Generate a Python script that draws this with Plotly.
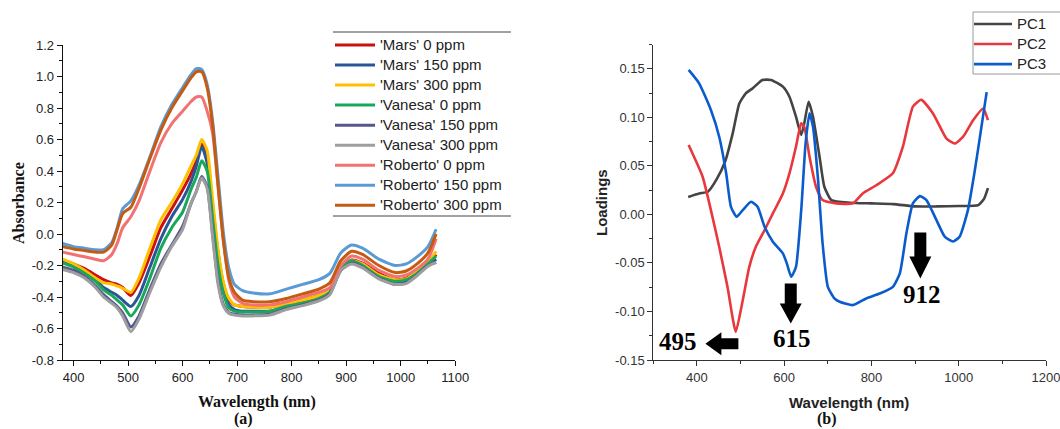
import plotly.graph_objects as go

# ---------------- (a) absorbance spectra ----------------
wavelength = [380, 400, 420, 440, 455, 470, 480, 490, 505, 520, 540, 560, 580, 600,
              615, 625, 635, 645, 655, 665, 675, 685, 695, 710, 730, 760, 790, 820,
              850, 870, 890, 910, 930, 960, 990, 1010, 1030, 1050, 1065]

series_names = ["'Mars' 0 ppm", "'Mars' 150 ppm", "'Mars' 300 ppm",
                "'Vanesa' 0 ppm", "'Vanesa' 150 ppm", "'Vanesa' 300 ppm",
                "'Roberto' 0 ppm", "'Roberto' 150 ppm", "'Roberto' 300 ppm"]

mars_0 = [-0.165, -0.19, -0.22, -0.26, -0.29, -0.31, -0.32, -0.34, -0.39, -0.31, -0.14, 0.04, 0.16, 0.28,
          0.38, 0.46, 0.57, 0.47, 0.18, -0.12, -0.32, -0.42, -0.45, -0.46, -0.465, -0.465, -0.44, -0.42,
          -0.39, -0.35, -0.22, -0.165, -0.185, -0.25, -0.29, -0.28, -0.24, -0.19, -0.13]
mars_150 = [-0.175, -0.2, -0.24, -0.29, -0.34, -0.37, -0.39, -0.42, -0.46, -0.39, -0.21, -0.03, 0.11, 0.22,
            0.33, 0.43, 0.555, 0.45, 0.14, -0.16, -0.36, -0.45, -0.48, -0.49, -0.49, -0.49, -0.46, -0.44,
            -0.41, -0.37, -0.23, -0.18, -0.2, -0.27, -0.31, -0.3, -0.25, -0.2, -0.16]
mars_300 = [-0.16, -0.19, -0.23, -0.28, -0.31, -0.317, -0.33, -0.345, -0.37, -0.28, -0.09, 0.09, 0.2, 0.32,
            0.43, 0.5, 0.6, 0.53, 0.22, -0.1, -0.31, -0.41, -0.45, -0.46, -0.465, -0.465, -0.44, -0.42,
            -0.39, -0.35, -0.22, -0.17, -0.19, -0.26, -0.29, -0.285, -0.24, -0.18, -0.11]
vanesa_0 = [-0.185, -0.21, -0.25, -0.3, -0.355, -0.39, -0.42, -0.45, -0.52, -0.45, -0.28, -0.09, 0.04, 0.14,
            0.28, 0.36, 0.465, 0.4, 0.1, -0.2, -0.38, -0.47, -0.49, -0.495, -0.495, -0.49, -0.46, -0.44,
            -0.41, -0.37, -0.22, -0.17, -0.2, -0.27, -0.3, -0.29, -0.25, -0.19, -0.14]
vanesa_150 = [-0.21, -0.23, -0.27, -0.33, -0.385, -0.43, -0.46, -0.5, -0.59, -0.52, -0.35, -0.19, -0.07, 0.05,
              0.19, 0.27, 0.365, 0.3, 0.0, -0.3, -0.45, -0.5, -0.51, -0.515, -0.515, -0.51, -0.475, -0.45,
              -0.42, -0.38, -0.23, -0.185, -0.21, -0.28, -0.32, -0.31, -0.26, -0.2, -0.18]
vanesa_300 = [-0.225, -0.245, -0.28, -0.34, -0.4, -0.44, -0.47, -0.52, -0.62, -0.54, -0.37, -0.21, -0.08, 0.03,
              0.19, 0.27, 0.355, 0.29, -0.02, -0.32, -0.46, -0.505, -0.515, -0.52, -0.52, -0.515, -0.48, -0.455,
              -0.425, -0.385, -0.23, -0.19, -0.215, -0.285, -0.32, -0.315, -0.265, -0.205, -0.18]
roberto_0 = [-0.115, -0.13, -0.145, -0.16, -0.17, -0.13, -0.06, 0.04, 0.11, 0.21, 0.4, 0.58, 0.7, 0.78,
             0.84, 0.87, 0.87, 0.78, 0.64, 0.3, -0.05, -0.3, -0.4, -0.44, -0.45, -0.45, -0.43, -0.4,
             -0.37, -0.34, -0.2, -0.14, -0.16, -0.23, -0.27, -0.26, -0.22, -0.16, -0.03]
roberto_150 = [-0.06, -0.08, -0.09, -0.1, -0.1, -0.055, 0.04, 0.16, 0.21, 0.31, 0.49, 0.68, 0.82, 0.93,
               1.01, 1.05, 1.045, 0.95, 0.72, 0.36, 0.0, -0.22, -0.32, -0.36, -0.375, -0.38, -0.35, -0.32,
               -0.29, -0.25, -0.12, -0.07, -0.09, -0.16, -0.2, -0.19, -0.145, -0.08, 0.03]
roberto_300 = [-0.08, -0.095, -0.105, -0.115, -0.115, -0.07, 0.03, 0.13, 0.17, 0.29, 0.48, 0.66, 0.8, 0.91,
               0.99, 1.03, 1.03, 0.93, 0.69, 0.31, -0.05, -0.28, -0.37, -0.42, -0.43, -0.43, -0.41, -0.38,
               -0.35, -0.31, -0.17, -0.11, -0.13, -0.2, -0.245, -0.235, -0.19, -0.12, 0.0]

absorbance = [mars_0, mars_150, mars_300, vanesa_0, vanesa_150, vanesa_300,
              roberto_0, roberto_150, roberto_300]
series_colors = ["#CC1010", "#2A5597", "#FFC000", "#17A85A", "#56578F",
                 "#9E9E9E", "#F27272", "#5B9BD5", "#C55A11"]

abs_ticks = [-0.8, -0.6, -0.4, -0.2, 0.0, 0.2, 0.4, 0.6, 0.8, 1.0, 1.2]
abs_tick_text = ["-0.8", "-0.6", "-0.4", "-0.2", "0.0", "0.2", "0.4", "0.6", "0.8", "1.0", "1.2"]
wl_ticks_a = [400, 500, 600, 700, 800, 900, 1000, 1100]

# ---------------- (b) PCA loadings ----------------
pc1_wl = [380, 405, 425, 445, 465, 482, 497, 512, 528, 550, 570, 597, 612, 627, 639, 646, 656,
          666, 681, 692, 708, 750, 800, 850, 900, 950, 1000, 1045, 1058, 1067]
pc1 = [0.018, 0.0216, 0.0233, 0.036, 0.055, 0.0835, 0.114, 0.1247, 0.13, 0.1385, 0.1385, 0.1316,
       0.1212, 0.1006, 0.0818, 0.0938, 0.1161, 0.1006, 0.0594, 0.0285, 0.0147, 0.012, 0.0113,
       0.0106, 0.0082, 0.0082, 0.0086, 0.0096, 0.016, 0.027]

pc2_wl = [381, 413, 432, 451, 470, 489, 505, 520, 535, 555, 574, 597, 612, 627, 639, 646, 658, 673,
          688, 719, 757, 780, 811, 849, 872, 895, 914, 941, 972, 991, 1010, 1033, 1056, 1067]
pc2 = [0.0714, 0.0388, 0.0044, -0.0334, -0.0746, -0.121, -0.0884, -0.054, -0.0334, -0.0162, 0.001,
       0.0216, 0.0423, 0.0697, 0.0938, 0.0903, 0.0594, 0.0285, 0.0147, 0.0113, 0.0113, 0.0216, 0.03,
       0.0423, 0.0697, 0.111, 0.118, 0.104, 0.078, 0.073, 0.08, 0.097, 0.109, 0.097]

pc3_wl = [381, 405, 432, 451, 467, 478, 491, 505, 524, 539, 555, 574, 597, 606, 616, 627, 639, 649,
          658, 666, 677, 688, 700, 715, 727, 757, 788, 819, 849, 865, 880, 895, 911, 926, 949, 968,
          987, 1002, 1021, 1037, 1052, 1064]
pc3 = [0.1488, 0.135, 0.1075, 0.08, 0.0423, 0.0078, -0.0025, 0.0044, 0.013, 0.0078, -0.0128, -0.0282,
       -0.0402, -0.0505, -0.0643, -0.054, 0.0044, 0.0732, 0.104, 0.0903, 0.0388, -0.0299, -0.0746,
       -0.0866, -0.09, -0.0935, -0.0866, -0.0815, -0.0746, -0.0608, -0.0196, 0.0113, 0.0188, 0.0147,
       -0.0059, -0.023, -0.028, -0.023, 0.0044, 0.0457, 0.09, 0.126]

pc_names = ["PC1", "PC2", "PC3"]
pc_colors = ["#444444", "#E8383D", "#0A5CCC"]

load_ticks = [-0.15, -0.10, -0.05, 0.0, 0.05, 0.10, 0.15]
load_tick_text = ["-0.15", "-0.10", "-0.05", "0.00", "0.05", "0.10", "0.15"]
wl_ticks_b = [400, 600, 800, 1000, 1200]

# key bands marked with arrows in panel (b)
band_labels = ["495", "615", "912"]
band_wl = [495, 615, 912]

# ---------------- figure ----------------
W, H = 1060, 429
SANS = "Liberation Sans, Arial, sans-serif"
SERIF = "Liberation Serif, Times New Roman, serif"


def legend_label(text):
    # legend rows are spaced by the legend font size; the label itself is a bit larger
    return "<span style='font-size:15px'>%s</span>" % text


fig = go.Figure()

for name, vals, col in zip(series_names, absorbance, series_colors):
    fig.add_trace(go.Scatter(x=wavelength, y=vals, name=legend_label(name), mode="lines",
                             line=dict(color=col, width=3, shape="spline", smoothing=0.6),
                             xaxis="x", yaxis="y", legend="legend"))

for name, xs, ys, col in zip(pc_names, [pc1_wl, pc2_wl, pc3_wl], [pc1, pc2, pc3], pc_colors):
    fig.add_trace(go.Scatter(x=xs, y=ys, name=legend_label(name), mode="lines",
                             line=dict(color=col, width=2.6, shape="spline", smoothing=0.5),
                             xaxis="x2", yaxis="y2", legend="legend2"))


def px_x(p):
    return p / W


def px_y(p):
    return 1 - p / H


axis_common = dict(showline=True, linewidth=1, showgrid=False, zeroline=False,
                   ticks="outside", ticklen=5, tickwidth=1, mirror=False)

fig.update_layout(
    width=W, height=H,
    margin=dict(l=0, r=0, t=0, b=0, autoexpand=False),
    paper_bgcolor="white", plot_bgcolor="white",
    showlegend=True,
    xaxis=dict(**axis_common, domain=[px_x(62.7), px_x(455.2)], range=[380, 1100],
               tickvals=wl_ticks_a, linecolor="#111", tickcolor="#111",
               tickfont=dict(family=SANS, size=13, color="#222"),
               minor=dict(dtick=50, tick0=0, ticklen=3, ticks="outside", tickcolor="#111"),
               ticklabeloverflow="allow", anchor="y"),
    yaxis=dict(**axis_common, domain=[1 - 360 / H, 1 - 45 / H], range=[-0.8, 1.2],
               tickvals=abs_ticks, ticktext=abs_tick_text, linecolor="#111", tickcolor="#111",
               tickfont=dict(family=SANS, size=13, color="#222"),
               minor=dict(dtick=0.1, tick0=0, ticklen=3, ticks="outside", tickcolor="#111"),
               anchor="x"),
    xaxis2=dict(**axis_common, domain=[px_x(653.3), px_x(1046)], range=[300, 1200],
                tickvals=wl_ticks_b, linecolor="#333", tickcolor="#333",
                tickfont=dict(family=SANS, size=13, color="#333"),
                minor=dict(dtick=100, tick0=0, ticklen=3, ticks="outside", tickcolor="#333"),
                ticklabeloverflow="allow", anchor="y2"),
    yaxis2=dict(**axis_common, domain=[1 - 360 / H, 1 - 44.5 / H], range=[-0.15, 0.175],
                tickvals=load_ticks, ticktext=load_tick_text, linecolor="#333", tickcolor="#333",
                tickfont=dict(family=SANS, size=13, color="#333"),
                minor=dict(dtick=0.025, tick0=0, ticklen=3, ticks="outside", tickcolor="#333"),
                anchor="x2"),
    legend=dict(x=px_x(330), y=px_y(30), xanchor="left", yanchor="top",
                bgcolor="rgba(0,0,0,0)", borderwidth=0, itemwidth=40,
                font=dict(family=SANS, size=13.1, color="#222"), tracegroupgap=0),
    legend2=dict(x=px_x(969), y=px_y(9), xanchor="left", yanchor="top",
                 bgcolor="rgba(0,0,0,0)", borderwidth=0, itemwidth=38,
                 font=dict(family=SANS, size=13.1, color="#222"), tracegroupgap=0),
)

# rules above and below the spectra legend
for yy in (32, 216):
    fig.add_shape(type="line", xref="paper", yref="paper",
                  x0=px_x(333), x1=px_x(511), y0=px_y(yy), y1=px_y(yy),
                  line=dict(color="#444", width=1))

# frame of the loadings legend (runs off the right edge)
fig.add_shape(type="rect", xref="paper", yref="paper", layer="below",
              x0=px_x(973), x1=px_x(1068), y0=px_y(74), y1=px_y(12),
              line=dict(color="#999", width=1), fillcolor="white")

# axis titles and panel letters
titles = [
    dict(text="Absorbance", x=px_x(18), y=px_y(203), textangle=-90,
         font=dict(family=SERIF, size=16, color="#111", weight="bold")),
    dict(text="Wavelength (nm)", x=px_x(257), y=px_y(402),
         font=dict(family=SERIF, size=16, color="#111", weight="bold")),
    dict(text="(a)", x=px_x(243), y=px_y(419),
         font=dict(family=SERIF, size=16, color="#111", weight="bold")),
    dict(text="Loadings", x=px_x(601), y=px_y(203), textangle=-90,
         font=dict(family=SANS, size=15, color="#222", weight="bold")),
    dict(text="Wavelength (nm)", x=px_x(849), y=px_y(402),
         font=dict(family=SANS, size=15, color="#222", weight="bold")),
    dict(text="(b)", x=px_x(827), y=px_y(419),
         font=dict(family=SERIF, size=16, color="#111", weight="bold")),
]
for t in titles:
    fig.add_annotation(xref="paper", yref="paper", showarrow=False,
                       xanchor="center", yanchor="middle", **t)

# block arrows pointing at the key bands (pixel-sized, anchored in data space)
down_short = "M0,0 L-11,20 L-6,20 L-6,40 L6,40 L6,20 L11,20 Z"
down_long = "M0,0 L-11,22 L-6,22 L-6,46 L6,46 L6,22 L11,22 Z"
left_arrow = "M-33,0 L-17,11.5 L-17,5.5 L0,5.5 L0,-5.5 L-17,-5.5 L-17,-11.5 Z"
arrow_specs = [
    (band_wl[0], -0.1332, left_arrow, -60.7, 1.8),
    (band_wl[1], -0.1124, down_short, 1.0, -15.0),
    (band_wl[2], -0.066, down_long, 1.4, -15.7),
]
for lab, (xa, ya, path, dx, dy) in zip(band_labels, arrow_specs):
    fig.add_shape(type="path", xref="x2", yref="y2", xsizemode="pixel", ysizemode="pixel",
                  xanchor=xa, yanchor=ya, path=path,
                  fillcolor="black", line=dict(width=0), layer="above")
    fig.add_annotation(xref="x2", yref="y2", x=xa, y=ya, xshift=dx, yshift=dy,
                       text=lab, showarrow=False, xanchor="center", yanchor="middle",
                       font=dict(family=SERIF, size=25, color="black", weight="bold"))

fig.write_html("out.html")
